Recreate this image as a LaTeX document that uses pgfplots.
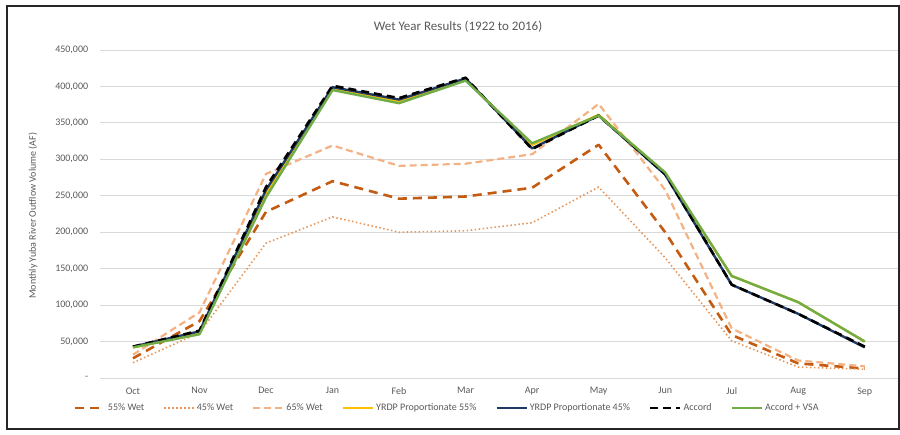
\documentclass[border=0pt]{standalone}
\usepackage{pgfplots}
\pgfplotsset{compat=1.18}
\usepackage{fontspec}
\setmainfont{Carlito}
\definecolor{txtgray}{RGB}{89,89,89}
\definecolor{gridgray}{RGB}{217,217,217}
\definecolor{wetA}{RGB}{197,90,17}
\definecolor{wetB}{RGB}{230,150,90}
\definecolor{wetC}{RGB}{244,177,131}
\definecolor{yrdpY}{RGB}{255,192,0}
\definecolor{yrdpN}{RGB}{32,56,100}
\definecolor{vsa}{RGB}{112,173,71}
\begin{document}
\begin{tikzpicture}[x=1pt,y=1pt]
\path[use as bounding box] (0,0) rectangle (900,435);
\draw[line width=2pt,black!85] (7,6) rectangle (899,429);
\node[font=\fontsize{13}{15}\selectfont,text=txtgray] at (458,408) {Wet Year Results (1922 to 2016)};
\begin{axis}[
  at={(99.7pt,57pt)}, anchor=south west,
  scale only axis, width=798.3pt, height=328pt,
  xmin=-0.5, xmax=11.5, ymin=0, ymax=450000,
  xtick={0,...,11},
  xticklabels={Oct,Nov,Dec,Jan,Feb,Mar,Apr,May,Jun,Jul,Aug,Sep},
  ytick={0,50000,...,450000},
  yticklabels={-,{50,000},{100,000},{150,000},{200,000},{250,000},{300,000},{350,000},{400,000},{450,000}},
  scaled y ticks=false,
  ymajorgrids, grid style={gridgray,line width=0.8pt},
  axis line style={draw=none},
  major tick length=0pt,
  tick label style={font=\fontsize{10}{12}\selectfont,text=txtgray},
  xticklabel style={yshift=-6pt},
  yticklabel style={xshift=-8pt},
  ylabel={Monthly Yuba River Outflow Volume (AF)},
  every axis y label/.style={at={(axis description cs:-0.0836,0.495)},rotate=90,anchor=center,
    font=\fontsize{10}{12}\selectfont,text=txtgray},
  legend columns=7,
  legend style={at={(0.435,-0.091)},anchor=center,draw=none,fill=none,
    font=\fontsize{10}{12}\selectfont,text=txtgray,
    /tikz/every even column/.append style={column sep=17pt}},
  legend image code/.code={\draw[#1] (0pt,0pt) -- (30pt,0pt);},
  line join=round,
]
\addplot[wetA, line width=2.6pt, dash pattern=on 9pt off 6pt] coordinates {
(0,27000)(1,78000)(2,228000)(3,270000)(4,246000)(5,249000)(6,261000)(7,320000)(8,200000)(9,59000)(10,20000)(11,13000)};
\addlegendentry{55\% Wet}
\addplot[wetB, line width=1.6pt, dash pattern=on 1.5pt off 2.5pt] coordinates {
(0,21000)(1,62000)(2,185000)(3,221000)(4,200000)(5,202000)(6,213000)(7,262000)(8,165000)(9,51000)(10,15000)(11,12000)};
\addlegendentry{45\% Wet}
\addplot[wetC, line width=2.2pt, dash pattern=on 7pt off 4pt] coordinates {
(0,32000)(1,90000)(2,280000)(3,319000)(4,291000)(5,294000)(6,307000)(7,376000)(8,258000)(9,68000)(10,24000)(11,16000)};
\addlegendentry{65\% Wet}
\addplot[yrdpY, line width=2.4pt] coordinates {
(0,42000)(1,61000)(2,253000)(3,398000)(4,380000)(5,409000)(6,320000)(7,361000)(8,281000)(9,140000)(10,104000)(11,50000)};
\addlegendentry{YRDP Proportionate 55\%}
\addplot[yrdpN, line width=2.4pt] coordinates {
(0,43000)(1,64000)(2,258000)(3,399000)(4,382000)(5,411000)(6,315000)(7,360000)(8,279000)(9,128000)(10,88000)(11,42000)};
\addlegendentry{YRDP Proportionate 45\%}
\addplot[black, line width=2.6pt, dash pattern=on 8pt off 5pt] coordinates {
(0,43000)(1,65000)(2,262000)(3,401000)(4,384000)(5,412000)(6,314000)(7,360000)(8,280000)(9,128000)(10,88000)(11,43000)};
\addlegendentry{Accord}
\addplot[vsa, line width=2.4pt] coordinates {
(0,42000)(1,60000)(2,248000)(3,395000)(4,377000)(5,408000)(6,322000)(7,360000)(8,282000)(9,140000)(10,104000)(11,50000)};
\addlegendentry{Accord + VSA}
\end{axis}
\end{tikzpicture}
\end{document}
